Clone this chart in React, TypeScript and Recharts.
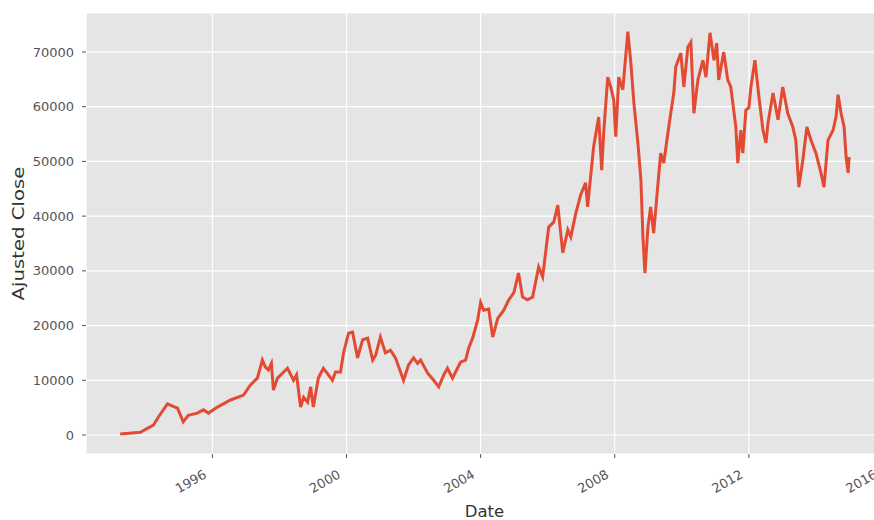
import { LineChart, Line, XAxis, YAxis, CartesianGrid } from "recharts";

// decimal year of each reading
const years = [
  1993.25, 1993.85, 1994.24, 1994.39, 1994.66, 1994.81, 1994.96, 1995.13, 1995.28, 1995.55,
  1995.73, 1995.88, 1996.15, 1996.54, 1996.93, 1997.13, 1997.34, 1997.49, 1997.58, 1997.67,
  1997.76, 1997.82, 1997.94, 1998.24, 1998.42, 1998.51, 1998.63, 1998.72, 1998.84, 1998.93,
  1999.01, 1999.16, 1999.31, 1999.46, 1999.58, 1999.67, 1999.82, 1999.91, 2000.06, 2000.18,
  2000.33, 2000.48, 2000.63, 2000.78, 2000.87, 2001.01, 2001.16, 2001.31, 2001.46, 2001.70,
  2001.85, 2002.00, 2002.12, 2002.21, 2002.42, 2002.60, 2002.75, 2002.90, 2003.01, 2003.16,
  2003.40, 2003.55, 2003.64, 2003.76, 2003.91, 2004.00, 2004.09, 2004.24, 2004.36, 2004.51,
  2004.69, 2004.84, 2004.99, 2005.13, 2005.25, 2005.40, 2005.55, 2005.73, 2005.85, 2006.03,
  2006.18, 2006.30, 2006.45, 2006.60, 2006.69, 2006.84, 2006.99, 2007.13, 2007.19, 2007.37,
  2007.52, 2007.61, 2007.67, 2007.79, 2007.88, 2007.97, 2008.03, 2008.12, 2008.24, 2008.39,
  2008.48, 2008.57, 2008.69, 2008.78, 2008.84, 2008.90, 2008.99, 2009.07, 2009.16, 2009.28,
  2009.37, 2009.46, 2009.61, 2009.76, 2009.82, 2009.97, 2010.06, 2010.18, 2010.27, 2010.36,
  2010.48, 2010.63, 2010.72, 2010.84, 2010.96, 2011.04, 2011.10, 2011.25, 2011.37, 2011.46,
  2011.61, 2011.67, 2011.76, 2011.82, 2011.91, 2012.00, 2012.06, 2012.18, 2012.30, 2012.42,
  2012.51, 2012.57, 2012.72, 2012.87, 2013.01, 2013.16, 2013.31, 2013.40, 2013.49, 2013.61,
  2013.73, 2013.85, 2014.00, 2014.15, 2014.24, 2014.36, 2014.51, 2014.60, 2014.66, 2014.75,
  2014.84, 2014.90, 2014.96, 2014.99,
];

const closes = [
  200, 500, 1800, 3300, 5700, 5300, 4900, 2400, 3600, 4000,
  4600, 4000, 5100, 6400, 7300, 9100, 10400, 13700, 12400, 11900,
  13100, 8200, 10400, 12200, 10000, 11000, 5100, 6900, 6000, 8800,
  5100, 10400, 12200, 11000, 10000, 11500, 11500, 15000, 18600, 18800,
  14100, 17400, 17700, 13700, 14600, 17900, 15000, 15500, 14100, 10000,
  12800, 14100, 13100, 13700, 11300, 10000, 8800, 11000, 12200, 10400,
  13300, 13700, 15800, 17700, 21000, 24200, 22800, 23000, 17900, 21300,
  22800, 24700, 26000, 29600, 25200, 24700, 25200, 30700, 28900, 38000,
  38900, 42000, 33300, 37500, 36200, 40600, 44000, 46100, 41700, 52700,
  58100, 48400, 55200, 65400, 63600, 61200, 54500, 65400, 63100, 73700,
  68000, 60700, 53400, 46600, 36200, 29600, 38000, 41700, 36900, 45300,
  51500, 49700, 56300, 62500, 67300, 69800, 63600, 70900, 71800, 58800,
  64900, 68500, 65400, 73500, 68500, 71600, 64900, 70000, 64900, 63600,
  56300, 49700, 55700, 51500, 59400, 59800, 63600, 68500, 61800, 55700,
  53400, 57000, 62500, 57600, 63600, 58800, 56300, 53900, 45300, 50300,
  56300, 53900, 51500, 47900, 45300, 53900, 55700, 58100, 62200, 58800,
  56300, 50800, 47900, 50800,
];

const xTicks = [1996, 2000, 2004, 2008, 2012, 2016];
const yTicks = [0, 10000, 20000, 30000, 40000, 50000, 60000, 70000];

const data = years.map((t, i) => ({ t, close: closes[i] }));

const FONT = "DejaVu Sans, sans-serif";

const DateTick = ({ x, y, payload }: any) => (
  <g transform={`translate(${x - 5},${y + 17}) rotate(-30)`}>
    <text textAnchor="end" fontSize={13} fill="#555" fontFamily={FONT}>
      {payload.value}
    </text>
  </g>
);

const YLabel = ({ viewBox }: any) => {
  const cx = 18;
  const cy = viewBox.y + viewBox.height / 2;
  return (
    <text
      x={cx}
      y={cy}
      transform={`rotate(-90, ${cx}, ${cy})`}
      textAnchor="middle"
      dominantBaseline="central"
      fontSize={16.5}
      fill="#333"
      fontFamily={FONT}
      textLength={134}
      lengthAdjust="spacingAndGlyphs"
    >
      Ajusted Close
    </text>
  );
};

export default function App() {
  return (
    <div style={{ position: "absolute", left: 0, top: 0, width: 874, height: 520, overflow: "hidden", background: "#fff" }}>
      <LineChart width={883} height={520} data={data} margin={{ top: 13, right: 0, bottom: 0, left: 0 }}>
        <CartesianGrid fill="#E5E5E5" stroke="#fff" strokeWidth={1.2} />
        <XAxis
          dataKey="t"
          type="number"
          domain={[1992.23, 2016]}
          ticks={xTicks}
          interval={0}
          height={66}
          axisLine={false}
          tickLine={{ stroke: "#555" }}
          tickSize={4}
          tickMargin={2}
          tick={<DateTick />}
          label={{ value: "Date", position: "insideBottom", offset: 3, fontSize: 16.5, fill: "#333", fontFamily: FONT }}
        />
        <YAxis
          type="number"
          domain={[-3470, 77120]}
          ticks={yTicks}
          interval={0}
          width={86}
          axisLine={false}
          tickLine={{ stroke: "#555" }}
          tickSize={4}
          tickMargin={8}
          tick={{ fontSize: 13, fill: "#555", fontFamily: FONT }}
          label={<YLabel />}
        />
        <Line
          type="linear"
          dataKey="close"
          stroke="#E24A33"
          strokeWidth={3}
          dot={false}
          isAnimationActive={false}
        />
      </LineChart>
    </div>
  );
}
